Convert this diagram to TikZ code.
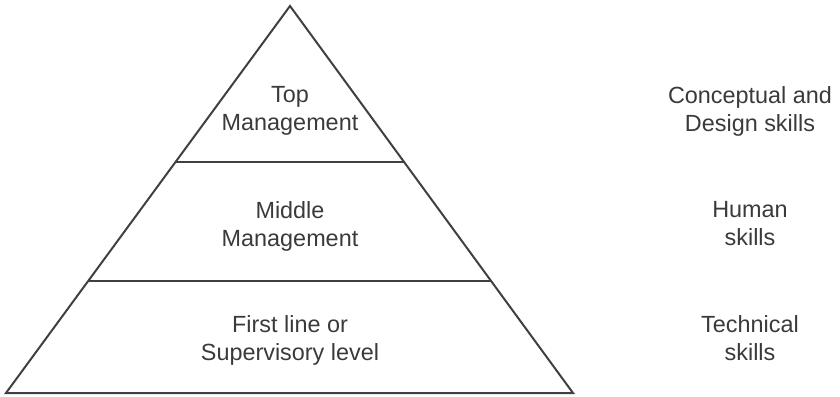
\documentclass[tikz,border=0pt]{standalone}
\usepackage{fontspec}
\setmainfont{Liberation Sans}
\usepackage{tikz}
\usetikzlibrary{calc, positioning}
\usepackage{xcolor}
\definecolor{edgegray}{HTML}{404040}
\definecolor{textgray}{HTML}{3A3A3A}

\begin{document}
\begin{tikzpicture}[
  x=1pt, y=-1pt,
  level/.style = {text=textgray, align=center, anchor=north, inner sep=0pt,
                  font=\fontsize{23.4}{28}\selectfont},
  skill/.style = {level},
  edge/.style  = {draw=edgegray, line width=2pt}
]
\useasboundingbox (0,0) rectangle (840,396);
% pyramid corners
\coordinate (apex)  at (290,6);
\coordinate (baseL) at (6,393);
\coordinate (baseR) at (573,393);
% split points on the two sides
\coordinate (topL) at ($(apex)!0.403!(baseL)$);
\coordinate (topR) at ($(apex)!0.403!(baseR)$);
\coordinate (midL) at ($(apex)!0.7106!(baseL)$);
\coordinate (midR) at ($(apex)!0.7106!(baseR)$);
% outline and dividers
\draw[edge] (apex) -- (baseL) -- (baseR) -- cycle;
\draw[edge] (topL) -- (topR);
\draw[edge] (midL) -- (midR);
% levels
\node[level] (L1) at (290,86)  {Top\\Management};
\node[level] (L2) at (290,201) {Middle\\Management};
\node[level] (L3) at (290,315) {First line or\\Supervisory level};
% skills
\node[skill] (S1) at (750,86)  {Conceptual and\\Design skills};
\node[skill] (S2) at (750,201) {Human\\skills};
\node[skill] (S3) at (750,315) {Technical\\skills};
\end{tikzpicture}
\end{document}
